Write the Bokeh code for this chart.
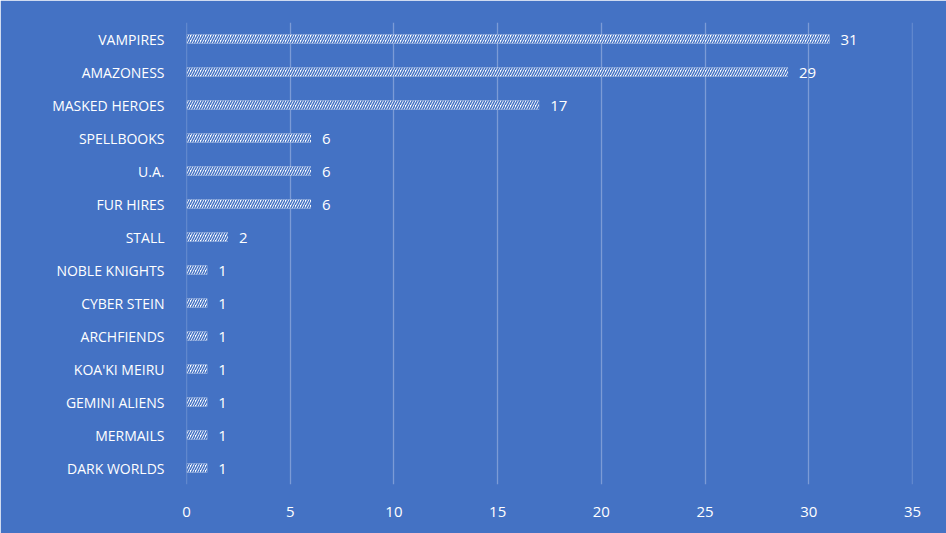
from bokeh.plotting import figure
from bokeh.models import ColumnDataSource, FactorRange, Range1d, LabelSet, SingleIntervalTicker, Span
from bokeh.core.properties import value
from bokeh.embed import file_html
from bokeh.resources import INLINE

categories = ["VAMPIRES", "AMAZONESS", "MASKED HEROES", "SPELLBOOKS", "U.A.", "FUR HIRES",
              "STALL", "NOBLE KNIGHTS", "CYBER STEIN", "ARCHFIENDS", "KOA'KI MEIRU",
              "GEMINI ALIENS", "MERMAILS", "DARK WORLDS"]
counts = [31, 29, 17, 6, 6, 6, 2, 1, 1, 1, 1, 1, 1, 1]
x_min, x_max = 0, 35

BG = "#4472C4"
GRID = "#7C9BD6"

src = ColumnDataSource(dict(cat=categories, val=counts, lab=[str(v) for v in counts]))

p = figure(width=946, height=533, output_backend="svg", toolbar_location=None,
           y_range=FactorRange(*reversed(categories)), x_range=Range1d(x_min, x_max))
p.background_fill_color = BG
p.border_fill_color = BG
p.outline_line_color = BG
p.outline_line_width = 2
p.min_border_left = 186
p.min_border_right = 34
p.min_border_top = 22
p.min_border_bottom = 49

for edge in (x_min, x_max):
    p.add_layout(Span(location=edge, dimension="height", line_color=GRID,
                      line_width=1.3, level="overlay"))

p.hbar(y="cat", right="val", left=0, height=0.28, source=src,
       fill_color="white", line_color=None,
       hatch_pattern="/", hatch_color=BG, hatch_scale=5, hatch_weight=1.5)

labels = LabelSet(x="val", y="cat", text="lab", source=src, x_offset=11, y_offset=-1,
                  text_color="white", text_font_size="15px", text_baseline="middle",
                  text_font=value("Open Sans"))
p.add_layout(labels)

p.xaxis.ticker = SingleIntervalTicker(interval=5)
p.xaxis.axis_line_color = None
p.xaxis.major_tick_line_color = None
p.xaxis.minor_tick_line_color = None
p.xaxis.major_label_text_color = "white"
p.xaxis.major_label_text_font_size = "15px"
p.xaxis.major_label_text_font = "Open Sans"
p.xaxis.major_label_standoff = 16

p.yaxis.axis_line_color = None
p.yaxis.major_tick_line_color = None
p.yaxis.minor_tick_line_color = None
p.yaxis.major_label_text_color = "white"
p.yaxis.major_label_text_font_size = "14px"
p.yaxis.major_label_text_font = "Open Sans"
p.yaxis.major_label_standoff = 16

p.xgrid.grid_line_color = GRID
p.xgrid.grid_line_width = 1.3
p.ygrid.grid_line_color = None

open("out.html", "w").write(file_html(p, INLINE))
